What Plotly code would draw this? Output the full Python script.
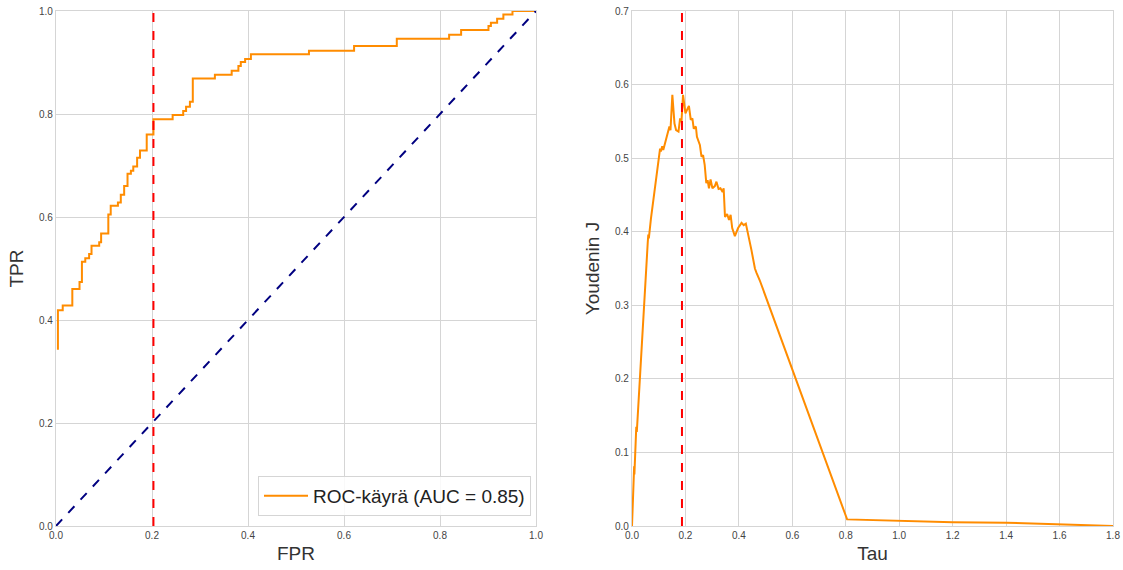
import plotly.graph_objects as go

# ROC curve points (step corners)
fpr = [0.004, 0.004, 0.014, 0.034, 0.049, 0.054, 0.061, 0.069, 0.074, 0.090,
       0.094, 0.109, 0.114, 0.129, 0.135, 0.142, 0.149, 0.156, 0.161, 0.169,
       0.175, 0.189, 0.203, 0.243, 0.265, 0.271, 0.279, 0.285, 0.331, 0.366,
       0.380, 0.385, 0.394, 0.406, 0.527, 0.621, 0.710, 0.819, 0.844, 0.901,
       0.906, 0.919, 0.932, 0.951, 1.0]
tpr = [0.342, 0.419, 0.428, 0.460, 0.474, 0.513, 0.520, 0.528, 0.544, 0.551,
       0.568, 0.605, 0.622, 0.628, 0.643, 0.660, 0.684, 0.690, 0.698, 0.715,
       0.729, 0.760, 0.790, 0.798, 0.806, 0.814, 0.824, 0.869, 0.876, 0.884,
       0.893, 0.901, 0.907, 0.916, 0.923, 0.932, 0.946, 0.954, 0.963, 0.971,
       0.977, 0.985, 0.993, 1.0, 1.0]
auc_value = 0.85
best_fpr = 0.203

# Youden's J as a function of threshold
tau = [0.000, 0.003, 0.005, 0.008, 0.009, 0.015, 0.016, 0.018, 0.034, 0.035,
       0.046, 0.059, 0.061, 0.063, 0.071, 0.105, 0.108, 0.113, 0.117, 0.123,
       0.130, 0.140, 0.144, 0.151, 0.159, 0.165, 0.174, 0.180, 0.185, 0.191,
       0.200, 0.207, 0.213, 0.220, 0.226, 0.231, 0.239, 0.243, 0.254, 0.260,
       0.266, 0.272, 0.278, 0.283, 0.288, 0.294, 0.301, 0.310, 0.316, 0.324,
       0.331, 0.339, 0.343, 0.348, 0.356, 0.363, 0.369, 0.375, 0.385, 0.397,
       0.410, 0.418, 0.426, 0.447, 0.460, 0.466, 0.470, 0.478, 0.805, 1.000,
       1.200, 1.400, 1.600, 1.800]
youden_j = [0.000, 0.030, 0.067, 0.081, 0.070, 0.121, 0.135, 0.128, 0.235, 0.223,
            0.307, 0.386, 0.396, 0.391, 0.418, 0.513, 0.509, 0.516, 0.511, 0.520,
            0.528, 0.543, 0.538, 0.586, 0.547, 0.538, 0.536, 0.554, 0.549, 0.586,
            0.561, 0.568, 0.571, 0.552, 0.554, 0.540, 0.543, 0.529, 0.518, 0.502,
            0.504, 0.491, 0.466, 0.470, 0.459, 0.471, 0.459, 0.462, 0.468, 0.458,
            0.459, 0.454, 0.459, 0.420, 0.424, 0.416, 0.423, 0.405, 0.394, 0.405,
            0.412, 0.409, 0.411, 0.375, 0.350, 0.344, 0.341, 0.334, 0.009, 0.007,
            0.005, 0.0045, 0.0025, 0.000]
best_tau = 0.187

ORANGE = "#ff8c00"
GRID = "#d5d5d5"
FONT = "Liberation Sans, Arial, sans-serif"

fig = go.Figure()

fig.add_trace(go.Scatter(
    x=fpr, y=tpr, mode="lines", line=dict(color=ORANGE, width=2, shape="hv"),
    name=f"ROC-käyrä (AUC = {auc_value:.2f})", xaxis="x", yaxis="y"))
fig.add_trace(go.Scatter(
    x=[0, 1], y=[0, 1], mode="lines", line=dict(color="navy", width=2, dash="dash"),
    showlegend=False, xaxis="x", yaxis="y"))
fig.add_trace(go.Scatter(
    x=[best_fpr, best_fpr], y=[0, 1], mode="lines",
    line=dict(color="red", width=2, dash="dash"),
    showlegend=False, xaxis="x", yaxis="y"))

fig.add_trace(go.Scatter(
    x=tau, y=youden_j, mode="lines", line=dict(color=ORANGE, width=2),
    showlegend=False, xaxis="x2", yaxis="y2"))
fig.add_trace(go.Scatter(
    x=[best_tau, best_tau], y=[0, 0.7], mode="lines",
    line=dict(color="red", width=2, dash="dash"),
    showlegend=False, xaxis="x2", yaxis="y2"))

axis_common = dict(
    showgrid=True, gridcolor=GRID, gridwidth=1,
    showline=True, linecolor=GRID, linewidth=1.3, mirror=True,
    zeroline=False, ticks="", automargin=False,
    tickfont=dict(family=FONT, size=10, color="#444444"),
    title_font=dict(family=FONT, size=19, color="#333333"),
)

ydom = [44 / 570, 559 / 570]

fig.update_layout(
    width=1123, height=570,
    margin=dict(l=0, r=0, t=0, b=0),
    paper_bgcolor="white", plot_bgcolor="white",
    font=dict(family=FONT),
    xaxis=dict(axis_common, domain=[56 / 1123, 536 / 1123], range=[0, 1],
               dtick=0.2, tickformat=".1f", title=dict(text="FPR", standoff=6),
               anchor="y"),
    yaxis=dict(axis_common, domain=ydom, range=[0, 1], dtick=0.2,
               tickformat=".1f", title=dict(text="TPR", standoff=10),
               anchor="x"),
    xaxis2=dict(axis_common, domain=[632 / 1123, 1113 / 1123], range=[0, 1.8],
                dtick=0.2, tickformat=".1f", title=dict(text="Tau", standoff=6),
                anchor="y2"),
    yaxis2=dict(axis_common, domain=ydom, range=[0, 0.7], dtick=0.1,
                tickformat=".1f", title=dict(text="Youdenin J", standoff=10),
                anchor="x2"),
    legend=dict(x=531 / 1123, y=54 / 570, xanchor="right", yanchor="bottom",
                bgcolor="rgba(255,255,255,0.85)", bordercolor=GRID, borderwidth=1,
                itemwidth=44,
                font=dict(family=FONT, size=19, color="#222222")),
    showlegend=True,
)

fig.write_html("out.html")
